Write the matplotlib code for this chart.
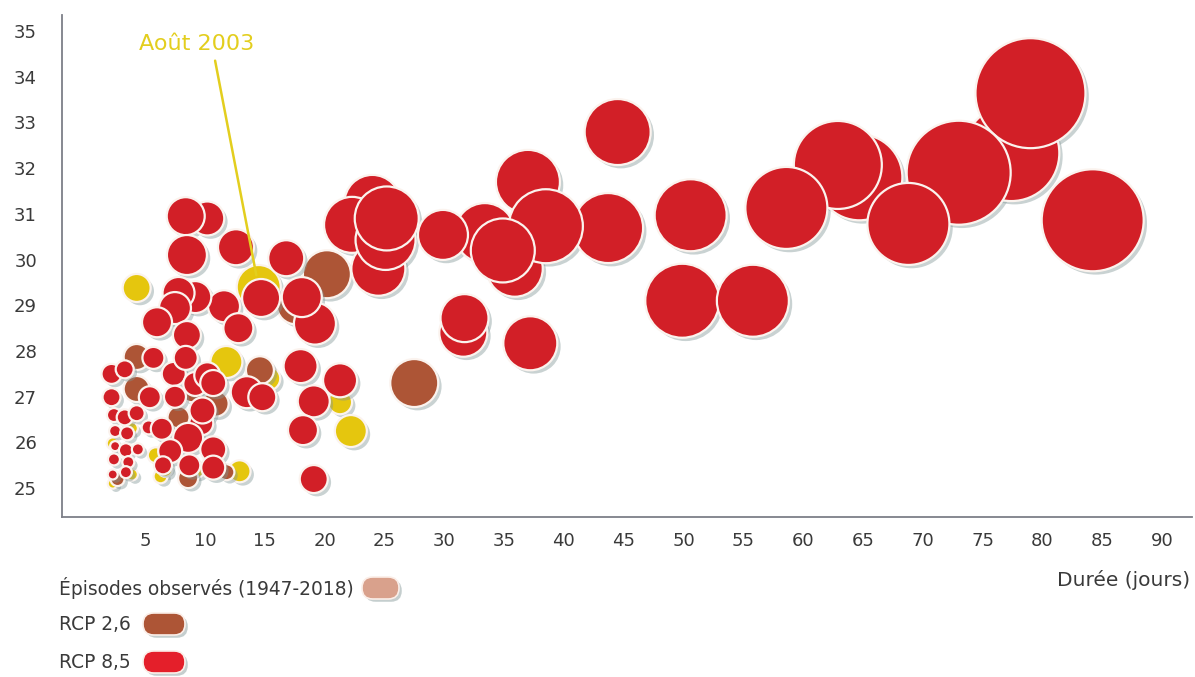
import matplotlib
matplotlib.use("Agg")
import matplotlib.pyplot as plt
import matplotlib.patheffects as pe
from matplotlib.patches import FancyBboxPatch
import numpy as np

plt.rcParams['font.family'] = ['DejaVu Sans']

# ---------------- data ----------------
# RCP 8,5 episodes: duration (days), max temperature (°C), severity index
rcp85_duree = [77.4, 79.0, 73.0, 84.2, 64.7, 62.9, 68.8, 58.6, 50.6, 49.9, 55.8, 44.5,
               43.7, 37.0, 35.9, 33.4, 38.5, 34.9, 29.9, 24.0, 22.3, 24.5, 25.1, 25.2,
               31.6, 31.7, 37.2,
               10.2, 8.4, 8.5, 12.6, 16.8, 19.2, 18.1, 14.7, 11.6, 12.8, 9.2, 7.8,
               7.5, 6.0, 8.5, 18.0, 21.3, 19.1, 18.2, 19.1, 13.5, 14.8,
               5.7, 2.2, 3.3, 5.4, 2.2, 7.4, 8.4, 9.2, 10.2, 7.5, 10.7, 2.4, 3.3,
               4.3, 5.3, 6.4, 9.7, 9.8, 8.6, 10.7, 7.1, 8.7, 6.5, 10.7, 2.5, 3.5,
               2.5, 3.4, 4.4, 2.4, 3.6, 2.3, 3.4]
rcp85_temp = [32.33, 33.64, 31.90, 30.86, 31.80, 32.07, 30.78, 31.13, 30.97, 29.10, 29.10, 32.79,
              30.69, 31.70, 29.80, 30.58, 30.73, 30.20, 30.54, 31.24, 30.76, 29.80, 30.43, 30.90,
              28.40, 28.72, 28.17,
              30.90, 30.95, 30.10, 30.27, 30.03, 28.60, 29.18, 29.16, 28.98, 28.50, 29.18, 29.27,
              28.94, 28.63, 28.35, 27.67, 27.36, 26.90, 26.27, 25.20, 27.10, 26.99,
              27.85, 27.50, 27.60, 26.99, 26.99, 27.50, 27.85, 27.28, 27.47, 27.00, 27.30, 26.60, 26.55,
              26.64, 26.33, 26.30, 26.42, 26.70, 26.10, 25.85, 25.81, 25.50, 25.50, 25.45, 26.25, 26.20,
              25.92, 25.83, 25.85, 25.63, 25.57, 25.30, 25.35]
rcp85_sev = [48, 55, 52, 51, 43, 44, 41, 41, 36, 37, 36, 33,
             35, 32, 28, 30, 37, 32, 25, 28, 28, 27, 30, 32,
             24, 24, 27,
             17, 19, 20, 18, 18, 21, 20, 19, 16, 15, 16, 16,
             16, 15, 14, 17, 17, 16, 15, 14, 16, 14,
             11, 10, 9, 11, 9, 12, 12, 12, 13, 11, 13, 7, 8,
             8, 7, 11, 12, 13, 15, 13, 12, 11, 9, 12, 6, 7,
             5, 7, 6, 6, 6, 5, 6]

# RCP 2,6 episodes
rcp26_duree = [27.5, 20.2, 17.6, 14.6, 4.3, 4.3, 8.9, 10.9, 7.8, 8.6, 11.8, 2.7]
rcp26_temp = [27.30, 29.68, 29.00, 27.58, 27.87, 27.17, 27.10, 26.85, 26.55, 25.22, 25.35, 25.20]
rcp26_sev = [24, 24, 19, 14, 13, 13, 10, 13, 11, 10, 8, 7]

# Observed episodes (1947-2018)
obs_duree = [14.5, 4.3, 11.8, 22.2, 21.3, 15.3, 12.9, 2.3, 3.9, 5.9, 6.3, 9.3, 2.3, 3.9, 6.7]
obs_temp = [29.40, 29.38, 27.76, 26.25, 26.88, 27.40, 25.37, 25.98, 26.31, 25.72, 25.26, 25.40, 25.10, 25.30, 25.40]
obs_sev = [22, 14, 16, 16, 12, 12, 11, 6, 6, 8, 7, 8, 5, 6, 7]

x_ticks = [5, 10, 15, 20, 25, 30, 35, 40, 45, 50, 55, 60, 65, 70, 75, 80, 85, 90]
y_ticks = [25, 26, 27, 28, 29, 30, 31, 32, 33, 34, 35]

annot_label = "Août 2003"
annot_point = (14.3, 29.66)
annot_text_pos = (9.3, 34.72)
legend_labels = ["Épisodes observés (1947-2018)", "RCP 2,6", "RCP 8,5"]
x_label = "Durée (jours)"

# ---------------- style ----------------
C_OBS = "#E5C60E"
C_26 = "#AD5536"
C_85 = "#D21F27"
C_LEG_OBS = "#D9A18C"
C_LEG_85 = "#E41F2A"
C_TEXT = "#3a3a3a"
C_ANN = "#E3CE1E"

W, H, DPI = 1195, 677, 100
fig = plt.figure(figsize=(W / DPI, H / DPI), dpi=DPI)
ax = fig.add_axes([62 / W, 1 - 517 / H, (1192 - 62) / W, (517 - 15) / H])

def size_of(sev):
    # severity index -> marker area (points^2)
    return (2 * np.asarray(sev) * 72 / DPI) ** 2

shadow = [pe.SimplePatchShadow(offset=(2.4, -2.4), shadow_rgbFace="#7f9494", alpha=0.42), pe.Normal()]

for xs, ys, sv, col, z in [(obs_duree, obs_temp, obs_sev, C_OBS, 2),
                           (rcp26_duree, rcp26_temp, rcp26_sev, C_26, 3),
                           (rcp85_duree, rcp85_temp, rcp85_sev, C_85, 4)]:
    sc = ax.scatter(xs, ys, s=size_of(sv), c=col, edgecolors="#fbf3ee", linewidths=1.6,
                    zorder=z, clip_on=False)
    sc.set_path_effects(shadow)

ax.set_xlim(-1.94, 92.5)
ax.set_ylim(24.37, 35.35)
ax.set_xticks(x_ticks)
ax.set_yticks(y_ticks)
ax.tick_params(axis="both", length=0, labelsize=13, colors=C_TEXT)
ax.tick_params(axis="y", pad=18)
ax.tick_params(axis="x", pad=11)
for s in ["top", "right"]:
    ax.spines[s].set_visible(False)
for s in ["left", "bottom"]:
    ax.spines[s].set_color("#7d7f88")
    ax.spines[s].set_linewidth(1.3)

# annotation
ax.annotate(annot_label, xy=annot_point, xytext=annot_text_pos, ha="center", va="center",
            fontsize=16, color=C_ANN,
            arrowprops=dict(arrowstyle="-", color=C_ANN, lw=1.8, shrinkA=3, shrinkB=0,
                            relpos=(0.65, 0.0)),
            zorder=10)

# x label
fig.text(1190 / W, 1 - 580 / H, x_label, ha="right", va="center", fontsize=14.5, color=C_TEXT)

# legend
leg_y = [588, 624, 662]
leg_box_x = [362, 143, 143]
leg_box_w = [37, 42, 42]
leg_cols = [C_LEG_OBS, C_26, C_LEG_85]
for lab, yy, bx, bw, col in zip(legend_labels, leg_y, leg_box_x, leg_box_w, leg_cols):
    fig.text(59 / W, 1 - yy / H, lab, ha="left", va="center", fontsize=13.4, color=C_TEXT)
    box = FancyBboxPatch((bx / W, 1 - (yy + 11) / H), bw / W, 22 / H,
                         boxstyle="round,pad=0,rounding_size=0.009",
                         transform=fig.transFigure, facecolor=col, edgecolor="#fbeee8",
                         linewidth=1.2, mutation_aspect=W / H)
    box.set_path_effects([pe.SimplePatchShadow(offset=(2, -2), shadow_rgbFace="#7f9494", alpha=0.45), pe.Normal()])
    fig.add_artist(box)

fig.savefig("out.png", dpi=DPI, facecolor="white")
